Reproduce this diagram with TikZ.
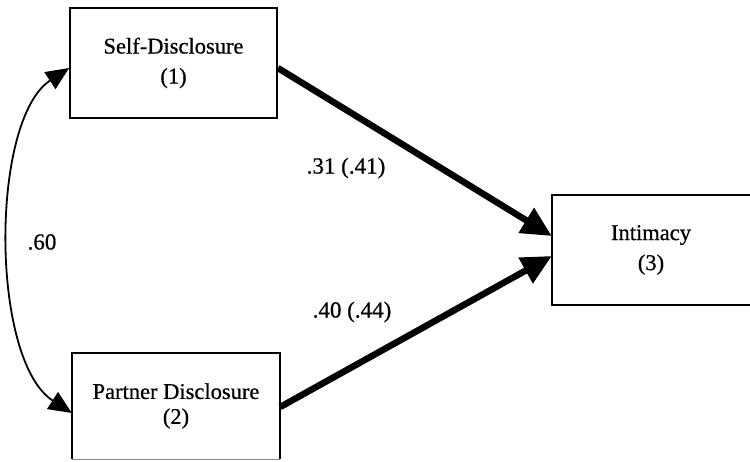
\documentclass[tikz,border=0pt]{standalone}
\usepackage{fontspec}
\setmainfont{Liberation Serif}
\newfontfamily\scanfont[FakeBold=0.7]{Liberation Serif}
\usetikzlibrary{arrows.meta}
\tikzset{
  boxtxt/.style={align=center, inner sep=0pt, font=\scanfont\fontsize{22.5}{30}\selectfont},
  var/.style={boxtxt, draw, line width=1.8pt},
  lbl/.style={inner sep=0pt, font=\scanfont\fontsize{23}{26}\selectfont},
  path/.style={line width=6.5pt, -{Triangle[length=30pt,width=28pt]}},
  corr/.style={line width=1.8pt, {Triangle[length=23pt,width=20pt]}-{Triangle[length=23pt,width=20pt]}}
}
\begin{document}
\begin{tikzpicture}[x=1pt,y=-1pt]
\useasboundingbox (0,0) rectangle (750,461);
\node[var, minimum width=207pt, minimum height=110pt] (self) at (173.5,63) {Self-Disclosure\\(1)};
\node[boxtxt, minimum width=208pt, minimum height=106pt] (part) at (176,406) {Partner Disclosure\\[-5pt](2)};
\draw[line width=1.8pt] (part.south west) -- (part.north west) -- (part.north east) -- (part.south east);
\draw[line width=0.8pt, black!45] (part.south west) -- (part.south east);
\node[boxtxt, minimum width=198pt, minimum height=110pt] (intim) at (651,250) {Intimacy\\(3)};
\draw[line width=1.8pt] (intim.north east) -- (intim.north west) -- (intim.south west) -- (intim.south east);
\coordinate (s1) at (self.east |- 0,68);
\coordinate (p1) at (part.east |- 0,407);
\coordinate (i1) at (intim.west |- 0,236);
\coordinate (i2) at (intim.west |- 0,256);
\draw[path] (s1) -- (i1);
\draw[path] (p1) -- (i2);
\coordinate (c1) at (self.west |- 0,68);
\coordinate (c2) at (part.west |- 0,413);
\draw[corr] (c1) .. controls (-10,120) and (-10,360) .. (c2);
\node[lbl] (l1) at (346,168) {.31 (.41)};
\node[lbl] (l2) at (352,312) {.40 (.44)};
\node[lbl] (l3) at (42,242) {.60};
\end{tikzpicture}
\end{document}
